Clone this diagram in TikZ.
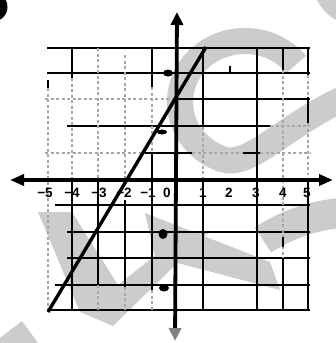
\documentclass[tikz,border=0pt]{standalone}
\usepackage{fontspec}
\setsansfont{Liberation Sans}
\usetikzlibrary{arrows.meta}
\begin{document}
\begin{tikzpicture}[x=1pt,y=-1pt,
  wm/.style={fill=black!20},
  wmline/.style={draw=black!20},
  gthick/.style={line width=2.9pt,black},
  gdot/.style={line width=1.5pt,black!35,dash pattern=on 3pt off 2.5pt},
  axisline/.style={line width=3.8pt,black},
  graphline/.style={line width=3.4pt,black},
  lab/.style={font=\sffamily\bfseries\fontsize{13.5}{13.5}\selectfont,inner sep=0pt},
  blob/.style={fill=black}]
\useasboundingbox (0,0) rectangle (336,343);
\clip (0,0) rectangle (336,343);
\fill[white] (0,0) rectangle (336,343);
% watermark
\fill[wm] (38,212) -- (72,212) -- (118,285) -- (185,232) -- (209,232) -- (113,326) -- (80,312) -- cycle;
\fill[wm] (145,213) -- (270,262) -- (280,290) -- (155,257) -- cycle;
\fill[wm] (0,338) -- (22,321) -- (38,343) -- (0,343) -- cycle;
\fill[wm] (317,0) .. controls (322,10) and (330,17) .. (336,20) -- (336,0) -- cycle;
\draw[wmline,line width=26pt] (296.2,64.4) arc[start angle=38,end angle=250,x radius=65pt,y radius=61pt]
   .. controls (250,168) and (285,125) .. (345,98);
\draw[wmline,line width=30pt] (350,212) .. controls (320,214) and (290,222) .. (263,240);
% black blob top-left
\fill[black] (-7,7) circle[radius=14.5pt];
% grid horizontals
\draw[gthick] (47,48) -- (310,48);
\draw[gthick] (47,73) -- (310,73);
\draw[gdot] (45,99) -- (177,99);
\draw[gthick] (177,99) -- (310,99);
\draw[gthick] (67,126) -- (270,126);
\draw[gdot] (270,126) -- (310,126);
\draw[gdot] (45,153) -- (145,153);
\draw[gthick] (145,153) -- (192,153);
\draw[gdot] (192,153) -- (243,153);
\draw[gthick] (243,153) -- (260,153);
\draw[gdot] (260,153) -- (310,153);
\draw[gthick] (55,205) -- (310,205);
\draw[gthick] (67,232) -- (310,232);
\draw[gthick] (67,258) -- (310,258);
\draw[gthick] (55,285) -- (310,285);
\draw[gthick] (47,310) -- (310,310);
% grid verticals
\draw[gdot] (48,88) -- (48,310);
\draw[gthick] (48,80) -- (48,88);
\draw[gthick] (72,48) -- (72,78);
\draw[gdot] (72,78) -- (72,180);
\draw[gthick] (72,180) -- (72,310);
\draw[gdot] (98,48) -- (98,180);
\draw[gthick] (98,180) -- (98,285);
\draw[gdot] (98,285) -- (98,310);
\draw[gdot] (125,55) -- (125,180);
\draw[gthick] (125,200) -- (125,287);
\draw[gdot] (125,287) -- (125,310);
\draw[gthick] (152,48) -- (152,87);
\draw[gdot] (152,87) -- (152,153);
\draw[gthick] (152,153) -- (152,290);
\draw[gdot] (152,290) -- (152,310);
\draw[gthick] (203,48) -- (203,127);
\draw[gdot] (203,127) -- (203,178);
\draw[gthick] (203,180) -- (203,310);
\draw[gthick] (230,66) -- (230,72);
\draw[gthick] (257,48) -- (257,310);
\draw[gthick] (283,48) -- (283,70);
\draw[gdot] (283,70) -- (283,258);
\draw[gthick] (283,237) -- (283,247);
\draw[gthick] (283,258) -- (283,310);
\draw[gthick] (308,48) -- (308,75);
\draw[gdot] (308,75) -- (308,97);
\draw[gthick] (308,97) -- (308,123);
\draw[gdot] (308,123) -- (308,175);
\draw[gthick] (308,180) -- (308,310);
% axes
\coordinate (xl) at (10,180);
\coordinate (xr) at (333,180);
\coordinate (yt) at (177,12);
\coordinate (yb) at (175,341);
\draw[axisline,{Triangle[length=14pt,width=11pt]}-{Triangle[length=14pt,width=11pt]}] (xl) -- (xr);
\draw[axisline,{Triangle[length=13pt,width=12pt]}-{Triangle[length=13pt,width=12pt,color=black!50]}] (yt) -- (yb);
% graph line
\coordinate (la) at (48,312);
\coordinate (lb) at (206,47);
\draw[graphline] (la) -- (lb);
% x labels
\node[lab] (m5) at (45,193) {−5};
\node[lab] (m4) at (72,193) {−4};
\node[lab] (m3) at (99,193) {−3};
\node[lab] (m2) at (124,193) {−2};
\node[lab] (m1) at (148,193) {−1};
\node[lab] (z0) at (167,193) {0};
\node[lab] (p1) at (203,193) {1};
\node[lab] (p2) at (229,193) {2};
\node[lab] (p3) at (256,193) {3};
\node[lab] (p4) at (283,193) {4};
\node[lab] (p5) at (307,193) {5};
% y-axis label blobs
\fill[blob] (168,73) ellipse[x radius=5pt,y radius=3.5pt];
\fill[blob] (162,132) ellipse[x radius=5pt,y radius=2.5pt];
\fill[blob] (163,234) ellipse[x radius=4.5pt,y radius=5pt];
\fill[blob] (164,288) ellipse[x radius=5pt,y radius=3.5pt];
\end{tikzpicture}
\end{document}
